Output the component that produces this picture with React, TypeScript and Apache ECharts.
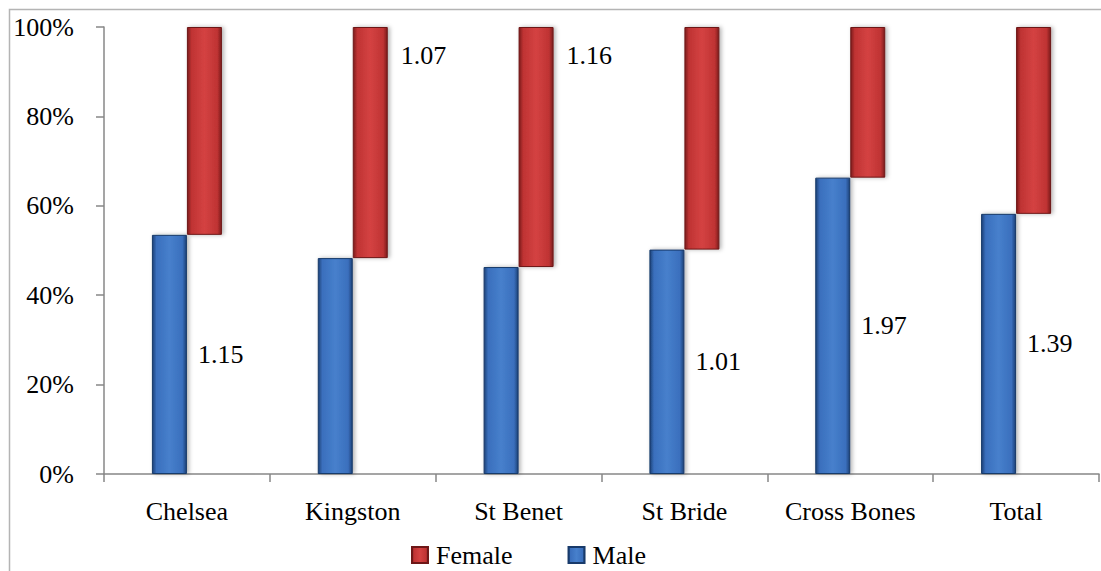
import React, { useEffect, useRef } from "react";
import * as echarts from "echarts";

const categories = ["Chelsea", "Kingston", "St Benet", "St Bride", "Cross Bones", "Total"];
const malePct = [53.5, 48.3, 46.3, 50.2, 66.3, 58.2];
const femalePct = [46.5, 51.7, 53.7, 49.8, 33.7, 41.8];
const ratios = ["1.15", "1.07", "1.16", "1.01", "1.97", "1.39"];
const yTicks = [0, 20, 40, 60, 80, 100];

const FONT = "Liberation Serif";

function grad(dark: string, mid: string, light: string) {
  return new echarts.graphic.LinearGradient(0, 0, 1, 0, [
    { offset: 0, color: dark },
    { offset: 0.12, color: mid },
    { offset: 0.5, color: light },
    { offset: 0.88, color: mid },
    { offset: 1, color: dark },
  ]);
}

export default function App() {
  const ref = useRef<HTMLDivElement>(null);
  useEffect(() => {
    if (!ref.current) return;
    const chart = echarts.init(ref.current, null, { renderer: "svg" });
    const blue = grad("#1d4278", "#3a6fbd", "#4780cc");
    const red = grad("#7c1c1c", "#bf3333", "#d44242");
    const labelBase = {
      color: "#000",
      fontFamily: FONT,
      fontSize: 26,
    };
    const maleData = malePct.map((v, i) => ({
      value: v,
      label:
        v >= 50
          ? { show: true, position: "right", distance: 11, align: "left", formatter: ratios[i], ...labelBase }
          : { show: false },
    }));
    const femaleData = femalePct.map((v, i) => ({
      value: v,
      label:
        malePct[i] < 50
          ? {
              show: true,
              position: ["100%", 0],
              offset: [13, 28],
              align: "left",
              verticalAlign: "middle",
              formatter: ratios[i],
              ...labelBase,
            }
          : { show: false },
    }));
    chart.setOption({
      animation: false,
      backgroundColor: "#fff",
      textStyle: { fontFamily: FONT },
      graphic: [
        {
          type: "rect",
          z: -10,
          shape: { x: 9.5, y: 9.5, width: 1300, height: 900 },
          style: { fill: "none", stroke: "#b4b4b4", lineWidth: 1.5 },
        },
      ],
      grid: { left: 104, right: 2, top: 27, bottom: 97, containLabel: false },
      legend: {
        data: ["Female", "Male"],
        left: 411,
        top: 542,
        itemWidth: 16,
        itemHeight: 16,
        itemGap: 55,
        icon: "rect",
        padding: 0,
        textStyle: { color: "#000", fontFamily: FONT, fontSize: 26, padding: [0, 0, 0, 3] },
      },
      xAxis: {
        type: "category",
        data: categories,
        axisLine: { lineStyle: { color: "#878787", width: 1.5 } },
        axisTick: { show: true, length: 8, lineStyle: { color: "#878787", width: 1.5 } },
        axisLabel: { color: "#000", fontFamily: FONT, fontSize: 26, margin: 24, interval: 0 },
      },
      yAxis: {
        type: "value",
        min: 0,
        max: 100,
        interval: 20,
        splitLine: { show: false },
        axisLine: { show: true, lineStyle: { color: "#878787", width: 1.5 } },
        axisTick: { show: true, length: 8, lineStyle: { color: "#878787", width: 1.5 } },
        axisLabel: {
          color: "#000",
          fontFamily: FONT,
          fontSize: 26,
          margin: 30,
          formatter: (v: number) => (yTicks.includes(v) ? v + "%" : ""),
        },
      },
      series: [
        {
          name: "Male",
          type: "bar",
          barWidth: 35,
          barGap: "0%",
          data: maleData,
          itemStyle: {
            color: blue,
            borderColor: "#183a6a",
            borderWidth: 1,
            shadowColor: "rgba(0,0,0,0.3)",
            shadowBlur: 4,
            shadowOffsetX: 2,
          },
        },
        {
          name: "base",
          type: "bar",
          stack: "f",
          barWidth: 35,
          barGap: "0%",
          data: malePct,
          silent: true,
          itemStyle: { color: "rgba(0,0,0,0)" },
          label: { show: false },
        },
        {
          name: "Female",
          type: "bar",
          stack: "f",
          barWidth: 35,
          barGap: "0%",
          data: femaleData,
          itemStyle: {
            color: red,
            borderColor: "#6e1818",
            borderWidth: 1,
            shadowColor: "rgba(0,0,0,0.3)",
            shadowBlur: 4,
            shadowOffsetX: 2,
          },
        },
      ],
    });
    return () => chart.dispose();
  }, []);
  return (
    <div
      ref={ref}
      style={{ position: "fixed", left: 0, top: 0, width: 1101, height: 571, background: "#fff" }}
    />
  );
}
